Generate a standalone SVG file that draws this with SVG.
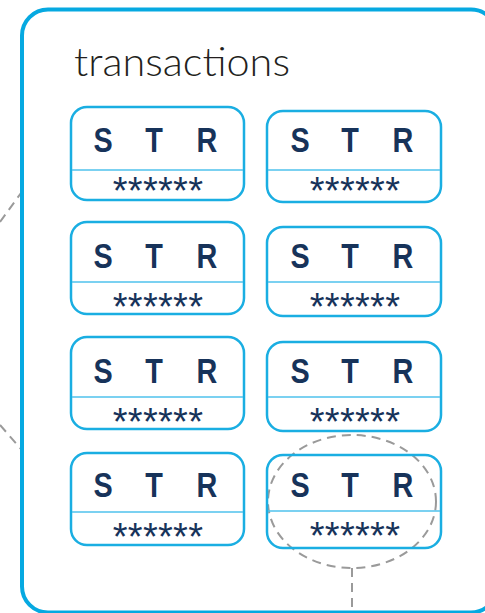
<svg xmlns="http://www.w3.org/2000/svg" width="485" height="613" viewBox="0 0 485 613">
<style>
.frame{fill:none;stroke:#06a9e1;stroke-width:4}
.card{fill:#fff;stroke:#1aaee2;stroke-width:2.5}
.div{stroke:#4fc2ec;stroke-width:1.5}
.ltr{font-family:"Liberation Sans",Arial,sans-serif;font-weight:bold;font-size:36px;fill:#17335a;text-anchor:middle}
.ast{font-family:"Liberation Sans",Arial,sans-serif;font-size:38px;fill:#17335a;text-anchor:middle;letter-spacing:0.3px}
.dash{fill:none;stroke:#9a9a9a;stroke-width:2;stroke-dasharray:9 6}
.title{font-family:"Lato","Liberation Sans",sans-serif;font-weight:300;font-size:40px;fill:#231f20}
</style>
<g id="connectors">
<line class="dash" x1="0" y1="222" x2="21" y2="193"/>
<line class="dash" x1="0" y1="425" x2="21" y2="449"/>
<ellipse class="dash" cx="352" cy="501.5" rx="84" ry="66.5"/>
<line class="dash" x1="352" y1="568" x2="352" y2="613"/>
</g>
<g id="transactions">
<rect class="frame" x="22" y="9.5" width="475" height="603" rx="26"/>
<text class="title" x="74" y="76" textLength="216" lengthAdjust="spacingAndGlyphs">transactions</text>
</g>
<g id="card-1">
<rect class="card" x="71" y="107" width="173" height="93" rx="16"/>
<line class="div" x1="72" y1="170" x2="243" y2="170"/>
<g transform="scale(0.8,1)"><text class="ltr" x="128.75" y="152">S</text><text class="ltr" x="192.5" y="152">T</text><text class="ltr" x="258.75" y="152">R</text></g>
<text class="ast" x="158" y="203.5">******</text>
</g>
<g id="card-2">
<rect class="card" x="267" y="111" width="174" height="91" rx="16"/>
<line class="div" x1="268" y1="170" x2="440" y2="170"/>
<g transform="scale(0.8,1)"><text class="ltr" x="375" y="152">S</text><text class="ltr" x="437.5" y="152">T</text><text class="ltr" x="503.75" y="152">R</text></g>
<text class="ast" x="355" y="203.5">******</text>
</g>
<g id="card-3">
<rect class="card" x="71" y="222" width="173" height="92" rx="16"/>
<line class="div" x1="72" y1="282" x2="243" y2="282"/>
<g transform="scale(0.8,1)"><text class="ltr" x="128.75" y="268">S</text><text class="ltr" x="192.5" y="268">T</text><text class="ltr" x="258.75" y="268">R</text></g>
<text class="ast" x="158" y="319.5">******</text>
</g>
<g id="card-4">
<rect class="card" x="267" y="227" width="174" height="89" rx="16"/>
<line class="div" x1="268" y1="282" x2="440" y2="282"/>
<g transform="scale(0.8,1)"><text class="ltr" x="375" y="268">S</text><text class="ltr" x="437.5" y="268">T</text><text class="ltr" x="503.75" y="268">R</text></g>
<text class="ast" x="355" y="319.5">******</text>
</g>
<g id="card-5">
<rect class="card" x="71" y="337" width="173" height="92" rx="16"/>
<line class="div" x1="72" y1="397" x2="243" y2="397"/>
<g transform="scale(0.8,1)"><text class="ltr" x="128.75" y="383">S</text><text class="ltr" x="192.5" y="383">T</text><text class="ltr" x="258.75" y="383">R</text></g>
<text class="ast" x="158" y="434.5">******</text>
</g>
<g id="card-6">
<rect class="card" x="267" y="342" width="174" height="89" rx="16"/>
<line class="div" x1="268" y1="397" x2="440" y2="397"/>
<g transform="scale(0.8,1)"><text class="ltr" x="375" y="383">S</text><text class="ltr" x="437.5" y="383">T</text><text class="ltr" x="503.75" y="383">R</text></g>
<text class="ast" x="355" y="434.5">******</text>
</g>
<g id="card-7">
<rect class="card" x="71" y="453" width="173" height="92" rx="16"/>
<line class="div" x1="72" y1="512" x2="243" y2="512"/>
<g transform="scale(0.8,1)"><text class="ltr" x="128.75" y="497">S</text><text class="ltr" x="192.5" y="497">T</text><text class="ltr" x="258.75" y="497">R</text></g>
<text class="ast" x="158" y="549.5">******</text>
</g>
<g id="card-8">
<rect class="card" x="267" y="455" width="174" height="93" rx="16" fill-opacity="0"/>
<line class="div" x1="268" y1="511" x2="440" y2="511"/>
<g transform="scale(0.8,1)"><text class="ltr" x="375" y="497">S</text><text class="ltr" x="437.5" y="497">T</text><text class="ltr" x="503.75" y="497">R</text></g>
<text class="ast" x="355" y="548.5">******</text>
</g>
</svg>
